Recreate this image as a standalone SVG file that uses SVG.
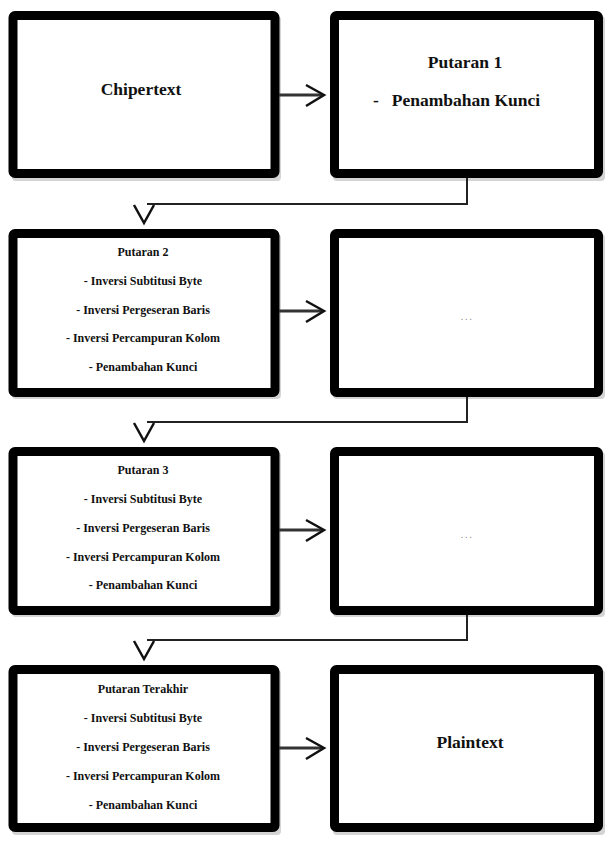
<svg xmlns="http://www.w3.org/2000/svg" width="612" height="843" viewBox="0 0 612 843">
<style>
.box{fill:#fff;stroke:#000;stroke-width:9;}
.sh{fill:#d4d4d4;}
.t{font-family:"Liberation Serif",serif;font-weight:bold;fill:#111;text-anchor:middle;}
.big{font-size:17.5px;}
.sm{font-size:12px;}
.dots{font-family:"Liberation Sans",sans-serif;font-size:10px;letter-spacing:1.5px;fill:#888;text-anchor:middle;}
.h{fill:none;stroke:#333;stroke-width:3;}
.v{fill:none;stroke:#222;stroke-width:2;}
.hd{fill:none;stroke:#111;stroke-width:2.5;stroke-linejoin:miter;}
</style>
<rect width="612" height="843" fill="#fff"/>
<g id="n1">
<rect class="sh" x="12" y="16" width="269" height="165" rx="4"/>
<rect class="box" x="13" y="15.5" width="262" height="158" rx="2"/>
<text class="t big" x="141" y="95">Chipertext</text>
</g>
<g id="n2">
<rect class="sh" x="333" y="16" width="272" height="165" rx="4"/>
<rect class="box" x="334.5" y="15.5" width="264" height="158" rx="2"/>
<text class="t big" x="465" y="68">Putaran 1</text>
<text class="t big" x="376" y="106">-</text>
<text class="t big" x="466" y="106">Penambahan Kunci</text>
</g>
<g id="n3">
<rect class="sh" x="12" y="234" width="269" height="165" rx="4"/>
<rect class="box" x="13" y="233.5" width="262" height="159" rx="2"/>
<text class="t sm" x="143" y="256">Putaran 2</text>
<text class="t sm" x="143" y="285">- Inversi Subtitusi Byte</text>
<text class="t sm" x="143" y="314">- Inversi Pergeseran Baris</text>
<text class="t sm" x="143" y="342">- Inversi Percampuran Kolom</text>
<text class="t sm" x="143" y="371">- Penambahan Kunci</text>
</g>
<g id="n4">
<rect class="sh" x="333" y="234" width="272" height="165" rx="4"/>
<rect class="box" x="334.5" y="233.5" width="264" height="159" rx="2"/>
<text class="dots" x="467" y="320">...</text>
</g>
<g id="n5">
<rect class="sh" x="12" y="452" width="269" height="165" rx="4"/>
<rect class="box" x="13" y="451.5" width="262" height="159" rx="2"/>
<text class="t sm" x="143" y="474">Putaran 3</text>
<text class="t sm" x="143" y="503">- Inversi Subtitusi Byte</text>
<text class="t sm" x="143" y="532">- Inversi Pergeseran Baris</text>
<text class="t sm" x="143" y="561">- Inversi Percampuran Kolom</text>
<text class="t sm" x="143" y="589">- Penambahan Kunci</text>
</g>
<g id="n6">
<rect class="sh" x="333" y="452" width="272" height="165" rx="4"/>
<rect class="box" x="334.5" y="451.5" width="264" height="159" rx="2"/>
<text class="dots" x="467" y="538">...</text>
</g>
<g id="n7">
<rect class="sh" x="12" y="670" width="269" height="165" rx="4"/>
<rect class="box" x="13" y="669.5" width="262" height="158" rx="2"/>
<text class="t sm" x="143" y="693">Putaran Terakhir</text>
<text class="t sm" x="143" y="722">- Inversi Subtitusi Byte</text>
<text class="t sm" x="143" y="751">- Inversi Pergeseran Baris</text>
<text class="t sm" x="143" y="780">- Inversi Percampuran Kolom</text>
<text class="t sm" x="143" y="809">- Penambahan Kunci</text>
</g>
<g id="n8">
<rect class="sh" x="333" y="670" width="272" height="165" rx="4"/>
<rect class="box" x="334.5" y="669.5" width="264" height="158" rx="2"/>
<text class="t big" x="470" y="748">Plaintext</text>
</g>
<g id="connectors">
<path class="h" d="M279,95 H323"/>
<path class="hd" d="M306,85 L324,95 L306,106"/>
<path class="v" d="M467,178 V204 H147"/>
<path class="hd" d="M134,205 L144,223 L154,205"/>
<path class="h" d="M279,311 H323"/>
<path class="hd" d="M306,301 L324,311 L306,322"/>
<path class="v" d="M467,397 V422 H147"/>
<path class="hd" d="M134,423 L144,441 L154,423"/>
<path class="h" d="M279,530 H323"/>
<path class="hd" d="M306,520 L324,530 L306,541"/>
<path class="v" d="M467,615 V640 H147"/>
<path class="hd" d="M134,641 L144,659 L154,641"/>
<path class="h" d="M279,748 H323"/>
<path class="hd" d="M306,738 L324,748 L306,759"/>
</g>
</svg>
